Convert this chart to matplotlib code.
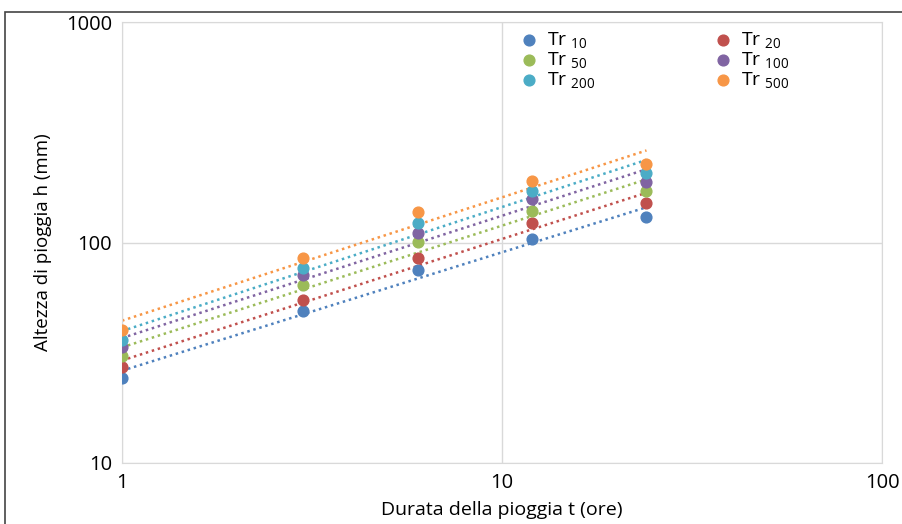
import numpy as np
import matplotlib.pyplot as plt
from matplotlib.patches import Rectangle

plt.rcParams['font.family'] = ['Open Sans', 'DejaVu Sans']
plt.rcParams['mathtext.fontset'] = 'custom'
plt.rcParams['mathtext.rm'] = 'Open Sans'
plt.rcParams['mathtext.it'] = 'Open Sans'

# durations (hours) and rainfall depths (mm) per return period
durata = [1, 3, 6, 12, 24]
tr10 = [24.4, 48.9, 75.3, 104, 131]
tr20 = [27.2, 55.0, 85.4, 122, 151]
tr50 = [30.5, 64.3, 101, 139, 171]
tr100 = [33.5, 71.4, 111, 157, 188]
tr200 = [36.0, 76.9, 123, 171, 207]
tr500 = [40.0, 85.4, 137, 190, 227]

series = [tr10, tr20, tr50, tr100, tr200, tr500]
labels = ['10', '20', '50', '100', '200', '500']
colori = ['#4F81BD', '#C0504D', '#9BBB59', '#8064A2', '#4BACC6', '#F79646']

fig = plt.figure(figsize=(9.02, 5.24), dpi=100)
ax = fig.add_axes([122/902, 1-463/524, 760/902, 441/524])

t = np.array(durata, dtype=float)
tt = np.linspace(1, 24, 100)
handles = []
for s, lab, c in zip(series, labels, colori):
    h = ax.scatter(t, s, s=60, color=c, zorder=3, label='Tr $_{' + lab + '}$')
    handles.append(h)
    # power-law trendline (fit in log space)
    b, a = np.polyfit(np.log10(t), np.log10(s), 1)
    ax.plot(tt, 10**a * tt**b, ls=(0, (1, 1.5)), lw=1.8, color=c, zorder=2)

ax.set_xscale('log')
ax.set_yscale('log')
ax.set_xlim(1, 100)
ax.set_ylim(10, 1000)
ax.set_xticks([1, 10, 100])
ax.set_xticklabels(['1', '10', '100'])
ax.set_yticks([10, 100, 1000])
ax.set_yticklabels(['10', '100', '1000'])
ax.minorticks_off()
ax.tick_params(length=0, labelsize=14.5, pad=7)
ax.grid(True, color='#d9d9d9', lw=1)
for sp in ax.spines.values():
    sp.set_color('#d9d9d9')

ax.set_xlabel('Durata della pioggia t (ore)', fontsize=14, labelpad=6)
ax.set_ylabel('Altezza di pioggia h (mm)', fontsize=13.5, labelpad=10)

order = [0, 2, 4, 1, 3, 5]
ax.legend([handles[i] for i in order], [handles[i].get_label() for i in order],
          ncol=2, loc='upper left', bbox_to_anchor=(0.51, 1.0), frameon=False,
          fontsize=14, handletextpad=0.3, columnspacing=6.0, labelspacing=0.0,
          borderaxespad=0, handlelength=1.2)

fig.patches.append(Rectangle((5/902, -0.01), 1.0, 1-12/524 + 0.01, transform=fig.transFigure,
                             fill=False, ec='#444444', lw=1.2))

fig.savefig('out.png', dpi=100)
